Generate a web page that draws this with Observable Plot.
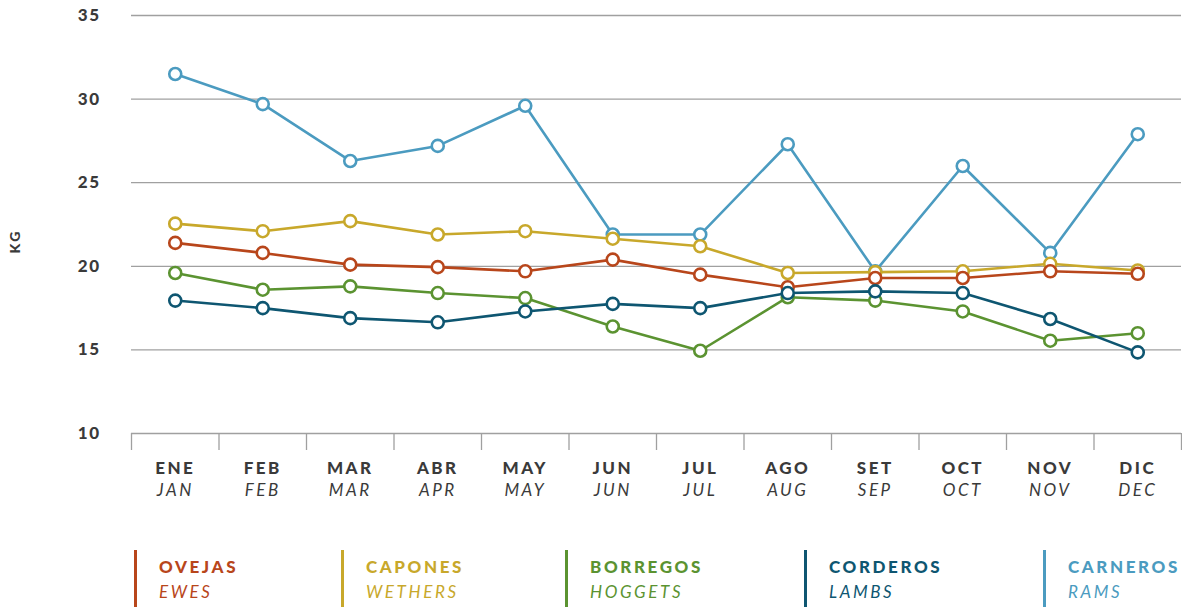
<!DOCTYPE html>
<html>
<head>
<meta charset="utf-8">
<script src="https://cdn.jsdelivr.net/npm/d3@7"></script>
<script src="https://cdn.jsdelivr.net/npm/@observablehq/plot@0.6"></script>
<style>
  html, body { margin: 0; padding: 0; background: #fff; }
  body { width: 1182px; height: 607px; overflow: hidden; font-family: Lato, "Open Sans", sans-serif; }
  #chart svg { letter-spacing: 2.5px; }
  #chart svg g[aria-label="y-axis tick label"] text { letter-spacing: 1.5px; }
  #legend { position: relative; width: 1182px; height: 77px; }
  .item { position: absolute; top: 20px; height: 57px; border-left: 3px solid; padding-left: 22px; box-sizing: border-box; white-space: nowrap; }
  .es { font-weight: 900; font-size: 17px; letter-spacing: 2.6px; margin-top: 7px; line-height: 20px; }
  .en { font-style: italic; font-size: 17px; letter-spacing: 2.6px; margin-top: 5px; line-height: 20px; }
</style>
</head>
<body>
<div id="chart"></div>
<div id="legend"></div>
<script>
const monthsEs = ["ENE","FEB","MAR","ABR","MAY","JUN","JUL","AGO","SET","OCT","NOV","DIC"];
const monthsEn = ["JAN","FEB","MAR","APR","MAY","JUN","JUL","AUG","SEP","OCT","NOV","DEC"];
const yTicks = [10, 15, 20, 25, 30, 35];

const seriesEs = ["CARNEROS","BORREGOS","CAPONES","OVEJAS","CORDEROS"];
const seriesEn = ["RAMS","HOGGETS","WETHERS","EWES","LAMBS"];
const colors = ["#4b9bc0","#5b9331","#c8a82b","#b8461b","#0e5671"];

const carneros = [31.5, 29.7, 26.3, 27.2, 29.6, 21.9, 21.9, 27.3, 19.7, 26.0, 20.8, 27.9];
const borregos = [19.6, 18.6, 18.8, 18.4, 18.1, 16.4, 14.95, 18.15, 17.95, 17.3, 15.55, 16.0];
const capones  = [22.55, 22.1, 22.7, 21.9, 22.1, 21.65, 21.2, 19.6, 19.65, 19.7, 20.15, 19.75];
const ovejas   = [21.4, 20.8, 20.1, 19.95, 19.7, 20.4, 19.5, 18.75, 19.3, 19.3, 19.7, 19.55];
const corderos = [17.95, 17.5, 16.9, 16.65, 17.3, 17.75, 17.5, 18.4, 18.5, 18.4, 16.85, 14.85];

const allSeries = [carneros, borregos, capones, ovejas, corderos];
const rows = allSeries.flatMap((vals, s) => vals.map((v, i) => ({series: seriesEs[s], idx: i + 0.5, value: v})));
const monthRows = monthsEs.map((m, i) => ({es: m, en: monthsEn[i], idx: i + 0.5}));

const fontStack = "Lato, 'Open Sans', sans-serif";

const marks = [
  Plot.ruleY(yTicks, {stroke: "#a0a0a0", strokeWidth: 1.3}),
  Plot.axisY({ticks: yTicks, tickSize: 0, tickPadding: 31, label: null, fontSize: 17, fontWeight: 900, fill: "#3a3a3a", fontFamily: fontStack}),
  Plot.axisX({ticks: d3.range(13), tickSize: 17, tickFormat: () => "", stroke: "#a0a0a0", strokeWidth: 1.3, strokeOpacity: 1, label: null}),
  Plot.text(["KG"], {frameAnchor: "left", rotate: -90, dx: -116, dy: 29, fontSize: 14, fontWeight: 900, fill: "#3a3a3a", fontFamily: fontStack}),
  Plot.text(monthRows, {x: "idx", text: "es", frameAnchor: "bottom", dy: 40, fontSize: 17, fontWeight: 900, fill: "#3a3a3a", fontFamily: fontStack}),
  Plot.text(monthRows, {x: "idx", text: "en", frameAnchor: "bottom", dy: 62, fontSize: 17, fontStyle: "italic", fill: "#3a3a3a", fontFamily: fontStack})
];
allSeries.forEach((vals, s) => {
  const data = rows.filter(d => d.series === seriesEs[s]);
  marks.push(Plot.line(data, {x: "idx", y: "value", stroke: colors[s], strokeWidth: 2.6}));
  marks.push(Plot.dot(data, {x: "idx", y: "value", r: 6, fill: "white", stroke: colors[s], strokeWidth: 2.6}));
});

const chart = Plot.plot({
  width: 1182,
  height: 530,
  marginLeft: 131,
  marginRight: 1,
  marginTop: 15,
  marginBottom: 97,
  style: {fontFamily: fontStack, background: "white", overflow: "visible"},
  x: {type: "linear", domain: [0, 12]},
  y: {domain: [10, 35]},
  marks
});
document.getElementById("chart").appendChild(chart);

// legend
const legendOrder = [3, 2, 1, 4, 0];
const legendLeft = [134, 341, 565, 804, 1043];
const legend = document.getElementById("legend");
legendOrder.forEach((s, k) => {
  const div = document.createElement("div");
  div.className = "item";
  div.style.left = legendLeft[k] + "px";
  div.style.borderColor = colors[s];
  div.style.color = colors[s];
  div.innerHTML = `<div class="es">${seriesEs[s]}</div><div class="en">${seriesEn[s]}</div>`;
  legend.appendChild(div);
});
</script>
</body>
</html>
